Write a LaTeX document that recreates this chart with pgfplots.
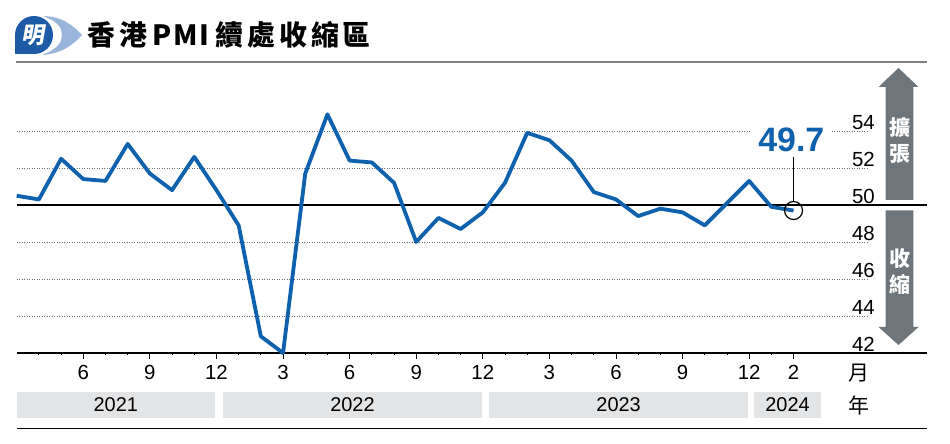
\documentclass[border=0pt]{standalone}
\usepackage{fontspec}
\setmainfont{Liberation Sans}
\newfontfamily\cjk{Noto Sans CJK TC}
\usepackage{pgfplots}
\pgfplotsset{compat=1.18}
\definecolor{pmiblue}{HTML}{0E62AD}
\definecolor{logoblue}{HTML}{1D5BA6}
\definecolor{logolight}{HTML}{9AB5DC}
\definecolor{arrowgray}{HTML}{6E767C}
\definecolor{bargray}{HTML}{E3E4E6}
\definecolor{gridgray}{HTML}{707070}
\begin{document}
\begin{tikzpicture}[x=1bp,y=1bp]
\useasboundingbox (0,0) rectangle (950,444);
% logo
\fill[logolight] (42,428) .. controls (62,428) and (74,418) .. (82,409) .. controls (74,400) and (62,390) .. (42,389) .. controls (58,395) and (62,402) .. (62,409) .. controls (62,416) and (58,423) .. (42,428) -- cycle;
\fill[white] (34,409) circle[radius=21];
\fill[logoblue] (34,409) circle[radius=19];
\fill[logoblue] (15,409) rectangle (34,390);
\node[text=white, font=\cjk\bfseries\fontsize{23}{23}\selectfont, xslant=0.18, transform shape] at (34,409) {明};
% title
\node[anchor=base west, inner sep=0, font=\cjk\bfseries\fontsize{28}{28}\selectfont] at (87,398) {香\kern4bp 港\kern6bp P\kern1.5bp M\kern1.5bp I\kern6bp 續\kern4bp 處\kern4bp 收\kern4bp 縮\kern4bp 區};
\draw[gray, line width=1.2bp] (16,382) -- (927,382);
% arrows
\fill[arrowgray] (898.5,376) -- (918.5,357) -- (913.3,357) -- (913.3,244) -- (885.7,244) -- (885.7,357) -- (878.5,357) -- cycle;
\fill[arrowgray] (898.5,99) -- (918.5,117) -- (913.3,117) -- (913.3,233.5) -- (885.7,233.5) -- (885.7,117) -- (878.5,117) -- cycle;
\node[text=white, font=\cjk\bfseries\fontsize{21}{21}\selectfont] at (899.5,316) {擴};
\node[text=white, font=\cjk\bfseries\fontsize{21}{21}\selectfont] at (899.5,290) {張};
\node[text=white, font=\cjk\bfseries\fontsize{21}{21}\selectfont] at (899.5,185) {收};
\node[text=white, font=\cjk\bfseries\fontsize{21}{21}\selectfont] at (899.5,160) {縮};
\begin{axis}[
  at={(16.7bp,91bp)}, anchor=south west,
  scale only axis, width=910bp, height=259bp,
  xmin=0, xmax=41, ymin=42, ymax=56,
  clip=false,
  axis x line*=bottom, axis y line*=right,
  x axis line style={black, line width=1.1bp},
  y axis line style={draw=none},
  xtick={3,6,9,12,15,18,21,24,27,30,33,35},
  xticklabels={6,9,12,3,6,9,12,3,6,9,12,2},
  minor xtick={1,2,4,5,7,8,10,11,13,14,16,17,19,20,22,23,25,26,28,29,31,32,34},
  tick align=outside,
  major tick length=6bp, minor tick length=2.5bp,
  xtick style={black, line width=0.8bp},
  ytick={42,44,...,54},
  ytick style={draw=none},
  /pgf/number format/assume math mode=true,
  tick label style={font=\fontsize{20.5}{24}\selectfont},
  yticklabel style={anchor=south east, xshift=-56.7bp, inner sep=1bp},
  xticklabel style={anchor=base, yshift=-21bp},
]
\foreach \g in {44,46,48,52,54}{
  \edef\temp{\noexpand\addplot[gridgray, line width=0.9bp, dash pattern=on 0.9bp off 1.6bp, forget plot] coordinates {(0,\g) (38.4,\g)};}
  \temp
}
\addplot[black, line width=1.2bp, forget plot] coordinates {(0,50) (41,50)};
\addplot[pmiblue, line width=3.8bp, line join=round] coordinates {
(0,50.5) (1,50.3) (2,52.5) (3,51.4) (4,51.3) (5,53.3) (6,51.7) (7,50.8) (8,52.6) (9,50.8)
(10,48.9) (11,42.9) (12,42.0) (13,51.7) (14,54.9) (15,52.4) (16,52.3) (17,51.2) (18,48.0) (19,49.3)
(20,48.7) (21,49.6) (22,51.2) (23,53.9) (24,53.5) (25,52.4) (26,50.7) (27,50.3) (28,49.4) (29,49.8)
(30,49.6) (31,48.9) (32,50.1) (33,51.3) (34,49.9) (35,49.7)
};
\addplot[black, line width=1bp] coordinates {(35,52.62) (35,50.19)};
\addplot[only marks, mark=o, mark size=9bp, mark options={black, line width=1.2bp}] coordinates {(35,49.7)};
\node[fill=white, inner xsep=7bp, inner ysep=2bp, text=pmiblue, font=\fontsize{34}{34}\selectfont\bfseries] at (axis cs:34.9,53.5) {49.7};
\end{axis}
% year bars
\fill[bargray] (16.7,25.7) rectangle (215,52.3);
\fill[bargray] (222.7,25.7) rectangle (482.3,52.3);
\fill[bargray] (489,25.7) rectangle (748.3,52.3);
\fill[bargray] (754,25.7) rectangle (821,52.3);
\node[font=\fontsize{20}{24}\selectfont] at (115.8,39) {2021};
\node[font=\fontsize{20}{24}\selectfont] at (352.5,39) {2022};
\node[font=\fontsize{20}{24}\selectfont] at (618.6,39) {2023};
\node[font=\fontsize{20}{24}\selectfont] at (787.5,39) {2024};
\node[font=\cjk\fontsize{21}{21}\selectfont] at (859,71) {月};
\node[font=\cjk\fontsize{21}{21}\selectfont] at (859,38) {年};
\draw[black, line width=1.1bp] (16.7,15.7) -- (926.7,15.7);
\end{tikzpicture}
\end{document}
